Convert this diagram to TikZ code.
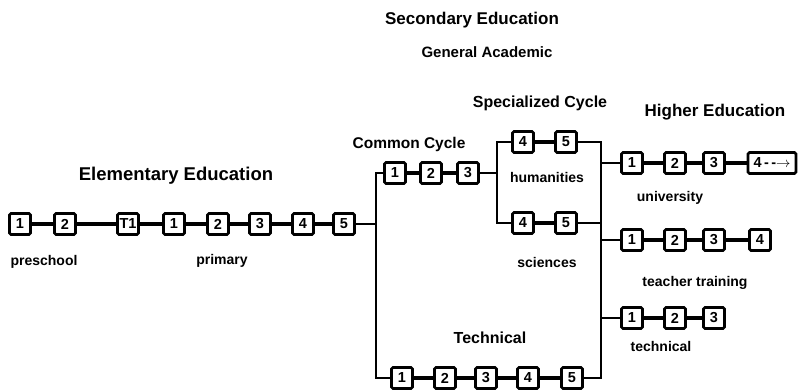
\documentclass[tikz,border=0pt]{standalone}
\usepackage{fontspec}
\setmainfont{Liberation Sans}
\usetikzlibrary{calc}

\begin{document}
\begin{tikzpicture}[x=1pt,y=-1pt,
  yr/.style={draw, line width=2.6pt, rounded corners=1.5pt, fill=white,
    minimum width=21pt, minimum height=21pt, inner sep=1pt,
    font=\bfseries\fontsize{14.5}{14.5}\selectfont},
  link/.style={line width=4pt},
  branch/.style={line width=2.2pt},
  head/.style={font=\bfseries\fontsize{17}{17}\selectfont},
  lbl/.style={font=\bfseries\fontsize{14}{14}\selectfont}]
\useasboundingbox (0,0) rectangle (805,391);
% Headings
\node[head] (sec) at (472,20) {Secondary Education};
\node[head, font=\bfseries\fontsize{15}{15}\selectfont] (gen) at (487,52) {General Academic};
\node[head, font=\bfseries\fontsize{16}{16}\selectfont] (spec) at (540,103) {Specialized Cycle};
\node[head] (high) at (715,112) {Higher Education};
\node[head, font=\bfseries\fontsize{15.5}{15.5}\selectfont] (comm) at (409,144) {Common Cycle};
\node[head, font=\bfseries\fontsize{18.5}{18.5}\selectfont] (elem) at (176,176) {Elementary Education};
\node[head, font=\bfseries\fontsize{16}{16}\selectfont] (tech) at (490,338) {Technical};
% Elementary row
\node[yr] (p1) at (20,224) {1};
\node[yr] (p2) at (65,224) {2};
\node[yr] (t1) at (128,224) {T1};
\node[yr] (e1) at (174,224) {1};
\node[yr] (e2) at (218,224) {2};
\node[yr] (e3) at (260,224) {3};
\node[yr] (e4) at (303,224) {4};
\node[yr] (e5) at (344,224) {5};
\node[lbl] (pre) at (44,262) {preschool};
\node[lbl] (prim) at (222,261) {primary};
% Common cycle
\node[yr] (c1) at (395,173) {1};
\node[yr] (c2) at (431,173) {2};
\node[yr] (c3) at (468,173) {3};
% Specialized cycle
\node[yr] (h4) at (523,142) {4};
\node[yr] (h5) at (566,142) {5};
\node[yr] (s4) at (523,223) {4};
\node[yr] (s5) at (566,223) {5};
\node[lbl] (hum) at (547,177) {humanities};
\node[lbl] (sci) at (547,262) {sciences};
% Technical
\node[yr] (k1) at (402,378) {1};
\node[yr] (k2) at (445,378) {2};
\node[yr] (k3) at (486,378) {3};
\node[yr] (k4) at (528,378) {4};
\node[yr] (k5) at (572,378) {5};
% Higher education
\node[yr] (u1) at (632,163) {1};
\node[yr] (u2) at (675,163) {2};
\node[yr] (u3) at (714,163) {3};
\node[yr, minimum width=48pt] (u4) at (772,163) {4\,-\,-$\mathbf{\rightarrow}$};
\node[yr] (tt1) at (632,240) {1};
\node[yr] (tt2) at (675,240) {2};
\node[yr] (tt3) at (714,240) {3};
\node[yr] (tt4) at (760,240) {4};
\node[yr] (th1) at (632,318) {1};
\node[yr] (th2) at (675,318) {2};
\node[yr] (th3) at (714,318) {3};
\node[lbl] (univ) at (670,198) {university};
\node[lbl] (teach) at (695,283) {teacher training};
\node[lbl] (tcl) at (661,346) {technical};
% Branch points
\coordinate (lv1) at (376,173);
\coordinate (lv2) at (376,224);
\coordinate (lv3) at (376,378);
\coordinate (mv1) at (497,142);
\coordinate (mv2) at (497,173);
\coordinate (mv3) at (497,223);
\coordinate (rv1) at (601,142);
\coordinate (rv2) at (601,163);
\coordinate (rv3) at (601,223);
\coordinate (rv4) at (601,240);
\coordinate (rv5) at (601,318);
\coordinate (rv6) at (601,378);
% Links
\begin{scope}[on background layer/.try]
\draw[link] (p1) -- (p2) -- (t1) -- (e1) -- (e2) -- (e3) -- (e4) -- (e5);
\draw[link] (c1) -- (c2) -- (c3);
\draw[link] (h4) -- (h5);
\draw[link] (s4) -- (s5);
\draw[link] (k1) -- (k2) -- (k3) -- (k4) -- (k5);
\draw[link] (u1) -- (u2) -- (u3) -- (u4);
\draw[link] (tt1) -- (tt2) -- (tt3) -- (tt4);
\draw[link] (th1) -- (th2) -- (th3);
\end{scope}
\draw[branch] (e5) -- (lv2);
\draw[branch] (c1) -- (lv1) -- (lv3) -- (k1);
\draw[branch] (c3) -- (mv2);
\draw[branch] (h4) -- (mv1) -- (mv3) -- (s4);
\draw[branch] (h5) -- (rv1) -- (rv6) -- (k5);
\draw[branch] (s5) -- (rv3);
\draw[branch] (rv2) -- (u1);
\draw[branch] (rv4) -- (tt1);
\draw[branch] (rv5) -- (th1);
\end{tikzpicture}
\end{document}
